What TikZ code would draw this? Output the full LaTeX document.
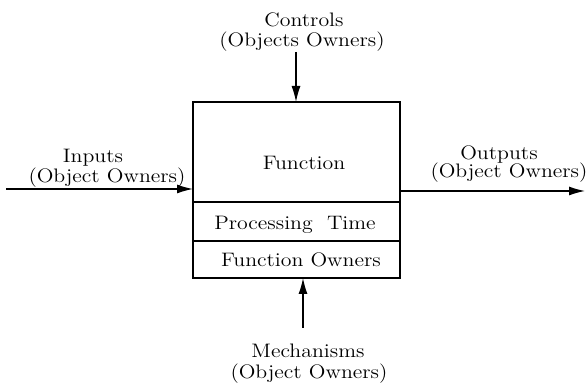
\documentclass[tikz,border=0pt]{standalone}
\usepackage{fontspec}
\setmainfont{lmroman12-regular.otf}[FakeStretch=1.12]
\usetikzlibrary{arrows.meta}
\begin{document}
\begin{tikzpicture}[x=1pt,y=1pt,
  lbl/.style={anchor=base,inner sep=0pt,font=\fontsize{19.5}{22}\selectfont},
  part/.style={draw,line width=1.3pt,minimum width=207pt,inner sep=0pt,outer sep=0pt},
  flow/.style={line width=1.3pt,-{Latex[length=16pt,width=9pt]}}]
\useasboundingbox (0,0) rectangle (587,387);

% the activity box, split into three compartments
\node[part,minimum height=100pt] (func) at (296.5,235) {};
\node[part,minimum height=39pt]  (ptime) at (296.5,165.5) {};
\node[part,minimum height=37pt]  (fown) at (296.5,127.5) {};

\node[lbl] (funcT)  at (304,217) {Function};
\node[lbl] (ptimeT) at (295,157) {Processing\ \ Time};
\node[lbl] (fownT)  at (301,120) {Function Owners};

% free ends of the four connectors
\coordinate (ctl) at (296,335);
\coordinate (inp) at (6,198);
\coordinate (outp) at (585,196);
\coordinate (mech) at (303,59);

\draw[flow] (ctl) -- (ctl |- func.north);
\draw[flow] (inp) -- (inp -| func.west);
\draw[flow] (outp -| func.east) -- (outp);
\draw[flow] (mech) -- (mech |- fown.south);

% connector labels
\node[lbl] (ctlA) at (304,360) {Controls};
\node[lbl] (ctlB) at (302,340) {(Objects Owners)};
\node[lbl] (inA)  at (93,224)  {Inputs};
\node[lbl] (inB)  at (107,204) {(Object Owners)};
\node[lbl] (outA) at (499,227) {Outputs};
\node[lbl] (outB) at (509,209) {(Object Owners)};
\node[lbl] (mecA) at (308,29)  {Mechanisms};
\node[lbl] (mecB) at (309,8)   {(Object Owners)};
\end{tikzpicture}
\end{document}
